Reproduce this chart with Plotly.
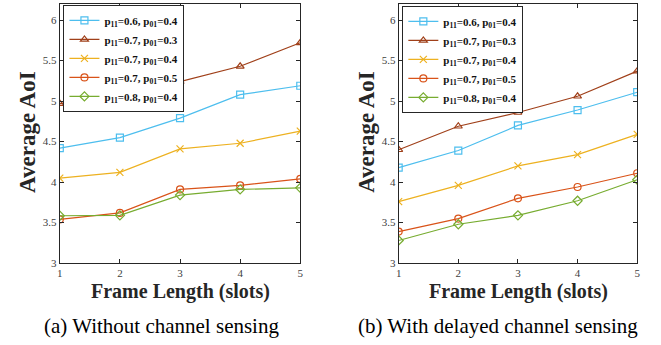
import plotly.graph_objects as go

frame = [1, 2, 3, 4, 5]
labels = ["<b>p<sub>11</sub>=0.6, p<sub>01</sub>=0.4</b>",
          "<b>p<sub>11</sub>=0.7, p<sub>01</sub>=0.3</b>",
          "<b>p<sub>11</sub>=0.7, p<sub>01</sub>=0.4</b>",
          "<b>p<sub>11</sub>=0.7, p<sub>01</sub>=0.5</b>",
          "<b>p<sub>11</sub>=0.8, p<sub>01</sub>=0.4</b>"]

# (a) Without channel sensing
a_s1 = [4.42, 4.55, 4.79, 5.08, 5.19]
a_s2 = [4.97, 5.03, 5.24, 5.43, 5.72]
a_s3 = [4.05, 4.12, 4.41, 4.48, 4.63]
a_s4 = [3.54, 3.62, 3.91, 3.96, 4.04]
a_s5 = [3.585, 3.59, 3.84, 3.91, 3.93]

# (b) With delayed channel sensing
b_s1 = [4.18, 4.39, 4.70, 4.89, 5.11]
b_s2 = [4.40, 4.69, 4.86, 5.06, 5.37]
b_s3 = [3.76, 3.96, 4.20, 4.34, 4.59]
b_s4 = [3.39, 3.55, 3.80, 3.94, 4.11]
b_s5 = [3.28, 3.48, 3.59, 3.77, 4.03]

colors = ["#4DBEEE", "#A0401A", "#EDB120", "#D95319", "#77AC30"]
symbols = ["square-open", "triangle-up-open", "x-thin-open", "circle-open", "diamond-open"]

fig = go.Figure()
for i, ys in enumerate([a_s1, a_s2, a_s3, a_s4, a_s5]):
    fig.add_trace(go.Scatter(x=frame, y=ys, mode="lines+markers", name=labels[i],
                             line=dict(color=colors[i], width=1.2),
                             marker=dict(symbol=symbols[i], size=7, color=colors[i],
                                         line=dict(color=colors[i], width=1.2)),
                             xaxis="x", yaxis="y", legend="legend"))
for i, ys in enumerate([b_s1, b_s2, b_s3, b_s4, b_s5]):
    fig.add_trace(go.Scatter(x=frame, y=ys, mode="lines+markers", name=labels[i],
                             line=dict(color=colors[i], width=1.2),
                             marker=dict(symbol=symbols[i], size=7, color=colors[i],
                                         line=dict(color=colors[i], width=1.2)),
                             xaxis="x2", yaxis="y2", legend="legend2"))

W, H = 661, 345
serif = "Liberation Serif"
tickfont = dict(family=serif, size=11, color="#404040")
ax_common = dict(showgrid=False, zeroline=False, showline=True, linecolor="#262626",
                 linewidth=1, mirror="ticks", ticks="inside", ticklen=4,
                 tickcolor="#262626", tickfont=tickfont)
xd1 = [57.3 / W, 300.0 / W]
xd2 = [399.3 / W, 640.0 / W]
yd = [1 - 267.8 / H, 1 - 4.0 / H]

leg_common = dict(font=dict(family=serif, size=11, color="#111111"),
                  bgcolor="white", bordercolor="#262626", borderwidth=1,
                  tracegroupgap=0, itemsizing="trace", itemwidth=30,
                  xanchor="left", yanchor="top")

fig.update_layout(
    width=W, height=H, margin=dict(l=0, r=0, t=0, b=0),
    paper_bgcolor="white", plot_bgcolor="white",
    xaxis=dict(domain=xd1, range=[1, 5], tickvals=frame, anchor="y", **ax_common),
    yaxis=dict(domain=yd, range=[3, 6.2], tickvals=[3, 3.5, 4, 4.5, 5, 5.5, 6],
               ticktext=["3", "3.5", "4", "4.5", "5", "5.5", "6"], anchor="x", **ax_common),
    xaxis2=dict(domain=xd2, range=[1, 5], tickvals=frame, anchor="y2", **ax_common),
    yaxis2=dict(domain=yd, range=[3, 6.2], tickvals=[3, 3.5, 4, 4.5, 5, 5.5, 6],
                ticktext=["3", "3.5", "4", "4.5", "5", "5.5", "6"], anchor="x2", **ax_common),
    legend=dict(x=61 / W, y=1 - 5 / H, **leg_common),
    legend2=dict(x=403 / W, y=1 - 6 / H, **leg_common),
    showlegend=True,
)

ann = []
for cx in [179, 520]:
    ann.append(dict(text="<b>Frame Length (slots)</b>", x=cx / W, y=1 - 297 / H,
                    xref="paper", yref="paper", showarrow=False,
                    xanchor="center", yanchor="middle",
                    font=dict(family=serif, size=20, color="#262626")))
for cx in [24, 366]:
    ann.append(dict(text="<b>Average AoI</b>", x=cx / W, y=1 - 134.5 / H,
                    xref="paper", yref="paper", showarrow=False, textangle=-90,
                    xanchor="center", yanchor="middle",
                    font=dict(family=serif, size=23, color="#262626")))
ann.append(dict(text="(a) Without channel sensing", x=160 / W, y=1 - 332 / H,
                xref="paper", yref="paper", showarrow=False,
                xanchor="center", yanchor="middle",
                font=dict(family=serif, size=21, color="black")))
ann.append(dict(text="(b) With delayed channel sensing", x=500 / W, y=1 - 332 / H,
                xref="paper", yref="paper", showarrow=False,
                xanchor="center", yanchor="middle",
                font=dict(family=serif, size=21, color="black")))
fig.update_layout(annotations=ann)

fig.write_html("out.html")
